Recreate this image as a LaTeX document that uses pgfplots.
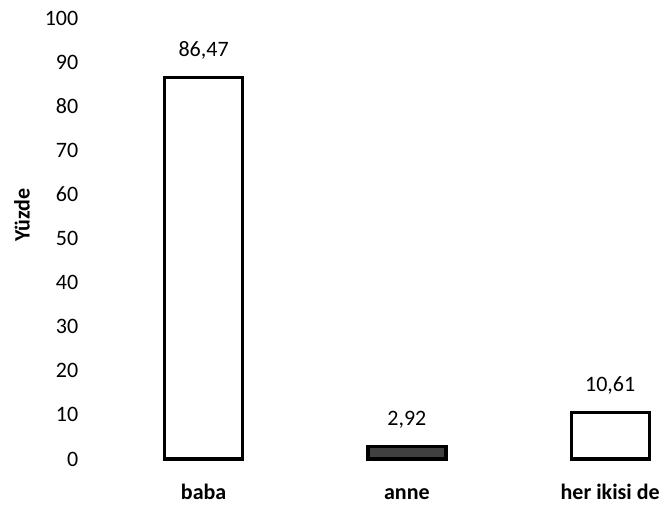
\documentclass[border=0pt]{standalone}
\usepackage{fontspec}
\setmainfont{Carlito}
\usepackage{pgfplots}
\pgfplotsset{compat=1.18}
\begin{document}
\fontsize{11}{13}\selectfont
\begin{tikzpicture}
\path[use as bounding box] (-51pt,-26pt) rectangle (279.5pt,229.5pt);
\begin{axis}[
  at={(0,0)}, anchor=south west,
  scale only axis,
  width=279.5pt, height=220.5pt,
  xmin=-0.5, xmax=2.25,
  ymin=0, ymax=100,
  ytick={0,10,...,100},
  xtick={0,1,2},
  xticklabels={baba,anne,her ikisi de},
  axis line style={draw=none},
  major tick length=0pt,
  tick style={draw=none},
  /pgf/number format/assume math mode=true,
  yticklabel style={font=\fontsize{11}{13}\selectfont, xshift=-8pt},
  xticklabel style={font=\fontsize{11}{13}\selectfont\bfseries, anchor=north, text height=0.75em, text depth=0.22em, yshift=-8pt},
  ylabel={Yüzde},
  ylabel style={at={(axis description cs:-0.1431,0.553)}, anchor=center, font=\fontsize{11}{13}\selectfont\bfseries},
  ybar, bar width=39pt, bar shift=0pt,
  clip=false,
]
\addplot[draw=black, line width=1.6pt, fill=white,
  nodes near coords,
  nodes near coords style={font=\fontsize{11}{13}\selectfont, yshift=4.5pt,
    /pgf/number format/.cd, fixed, fixed zerofill, precision=2, use comma, assume math mode=true}]
  coordinates {(0,86.47) (1,2.92) (2,10.61)};
\addplot[draw=black, line width=1.6pt, fill=black!75] coordinates {(1,2.92)};
\end{axis}
\end{tikzpicture}
\end{document}
